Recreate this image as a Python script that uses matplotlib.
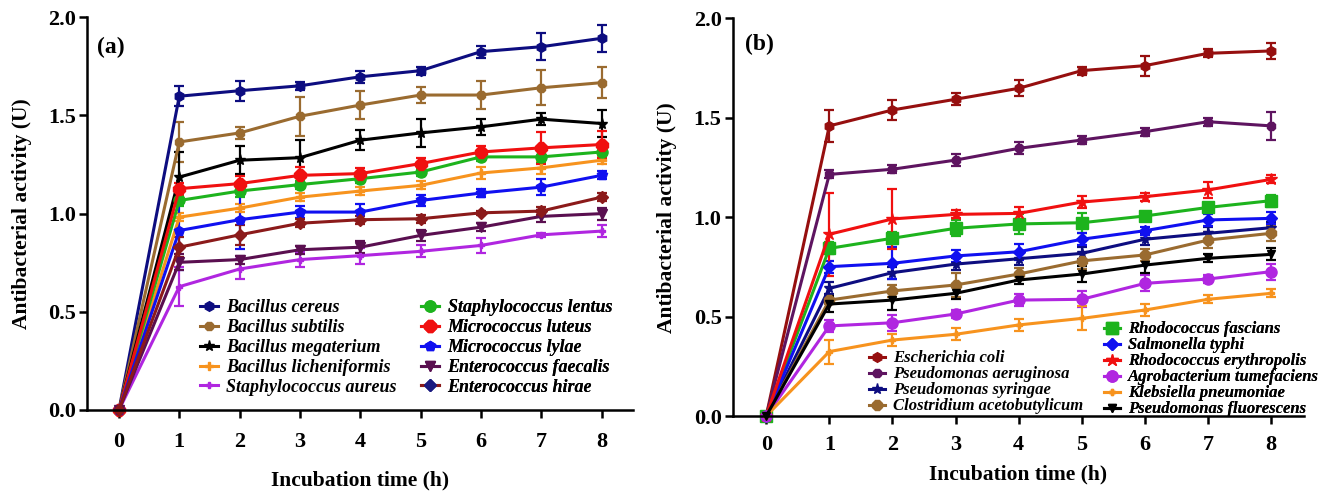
import matplotlib
matplotlib.use("Agg")
import matplotlib.pyplot as plt
from matplotlib.lines import Line2D

plt.rcParams['font.family'] = ['Liberation Serif', 'DejaVu Serif']
plt.rcParams['font.weight'] = 'bold'

hours = [0, 1, 2, 3, 4, 5, 6, 7, 8]
y_ticks = [0.0, 0.5, 1.0, 1.5, 2.0]
y_label = "Antibacterial activity (U)"
x_label = "Incubation time (h)"

# ---------- Panel (a) ----------
a_names = ["Bacillus cereus", "Bacillus subtilis", "Bacillus megaterium",
           "Bacillus licheniformis", "Staphylococcus aureus",
           "Staphylococcus lentus", "Micrococcus luteus", "Micrococcus lylae",
           "Enterococcus faecalis", "Enterococcus hirae"]
a_cereus = [0, 1.598, 1.626, 1.651, 1.697, 1.728, 1.825, 1.850, 1.893]
a_cereus_err = [0, 0.05, 0.05, 0.02, 0.03, 0.02, 0.03, 0.07, 0.07]
a_subtilis = [0, 1.365, 1.411, 1.496, 1.553, 1.604, 1.604, 1.641, 1.667]
a_subtilis_err = [0, 0.10, 0.03, 0.10, 0.07, 0.04, 0.07, 0.09, 0.08]
a_megaterium = [0, 1.186, 1.272, 1.285, 1.374, 1.411, 1.442, 1.481, 1.459]
a_megaterium_err = [0, 0.13, 0.07, 0.09, 0.05, 0.07, 0.04, 0.03, 0.07]
a_licheniformis = [0, 0.982, 1.028, 1.084, 1.115, 1.144, 1.207, 1.233, 1.272]
a_licheniformis_err = [0, 0.02, 0.02, 0.02, 0.02, 0.02, 0.03, 0.03, 0.02]
a_aureus = [0, 0.628, 0.718, 0.766, 0.786, 0.808, 0.838, 0.892, 0.911]
a_aureus_err = [0, 0.10, 0.05, 0.04, 0.04, 0.03, 0.04, 0.01, 0.03]
a_lentus = [0, 1.067, 1.115, 1.148, 1.178, 1.212, 1.289, 1.289, 1.314]
a_lentus_err = [0, 0.03, 0.03, 0.02, 0.02, 0.02, 0.02, 0.03, 0.03]
a_luteus = [0, 1.127, 1.153, 1.195, 1.204, 1.255, 1.314, 1.335, 1.352]
a_luteus_err = [0, 0.03, 0.04, 0.04, 0.03, 0.03, 0.03, 0.08, 0.07]
a_lylae = [0, 0.914, 0.969, 1.008, 1.008, 1.067, 1.105, 1.135, 1.195]
a_lylae_err = [0, 0.20, 0.15, 0.03, 0.04, 0.03, 0.02, 0.04, 0.02]
a_faecalis = [0, 0.752, 0.766, 0.816, 0.829, 0.889, 0.931, 0.986, 1.000]
a_faecalis_err = [0, 0.04, 0.02, 0.02, 0.03, 0.03, 0.02, 0.03, 0.03]
a_hirae = [0, 0.829, 0.892, 0.951, 0.969, 0.974, 1.004, 1.013, 1.084]
a_hirae_err = [0, 0.05, 0.05, 0.02, 0.02, 0.02, 0.01, 0.02, 0.02]

# ---------- Panel (b) ----------
b_names = ["Escherichia coli", "Pseudomonas aeruginosa", "Pseudomonas syringae",
           "Clostridium acetobutylicum", "Rhodococcus fascians",
           "Salmonella typhi", "Rhodococcus erythropolis",
           "Agrobacterium tumefaciens", "Klebsiella pneumoniae",
           "Pseudomonas fluorescens"]
b_ecoli = [0, 1.459, 1.539, 1.593, 1.648, 1.737, 1.762, 1.824, 1.836]
b_ecoli_err = [0, 0.08, 0.05, 0.03, 0.04, 0.02, 0.05, 0.02, 0.04]
b_aeruginosa = [0, 1.215, 1.241, 1.287, 1.346, 1.388, 1.430, 1.480, 1.459]
b_aeruginosa_err = [0, 0.02, 0.02, 0.03, 0.03, 0.02, 0.02, 0.02, 0.07]
b_syringae = [0, 0.642, 0.721, 0.764, 0.791, 0.818, 0.889, 0.919, 0.947]
b_syringae_err = [0, 0.03, 0.03, 0.03, 0.03, 0.03, 0.03, 0.03, 0.03]
b_clostridium = [0, 0.583, 0.629, 0.659, 0.714, 0.780, 0.810, 0.885, 0.919]
b_clostridium_err = [0, 0.02, 0.03, 0.06, 0.03, 0.04, 0.03, 0.04, 0.04]
b_fascians = [0, 0.843, 0.894, 0.944, 0.966, 0.972, 1.006, 1.049, 1.083]
b_fascians_err = [0, 0.03, 0.03, 0.04, 0.05, 0.05, 0.02, 0.02, 0.03]
b_typhi = [0, 0.751, 0.768, 0.805, 0.826, 0.889, 0.932, 0.986, 0.994]
b_typhi_err = [0, 0.03, 0.08, 0.03, 0.04, 0.03, 0.02, 0.03, 0.03]
b_erythropolis = [0, 0.914, 0.991, 1.014, 1.019, 1.076, 1.103, 1.137, 1.190]
b_erythropolis_err = [0, 0.21, 0.15, 0.02, 0.03, 0.03, 0.02, 0.04, 0.02]
b_agrobacterium = [0, 0.453, 0.469, 0.513, 0.583, 0.587, 0.667, 0.689, 0.726]
b_agrobacterium_err = [0, 0.03, 0.04, 0.02, 0.03, 0.04, 0.04, 0.02, 0.04]
b_klebsiella = [0, 0.324, 0.382, 0.411, 0.458, 0.491, 0.533, 0.587, 0.617]
b_klebsiella_err = [0, 0.06, 0.03, 0.03, 0.03, 0.06, 0.03, 0.02, 0.02]
b_fluorescens = [0, 0.563, 0.583, 0.617, 0.684, 0.714, 0.759, 0.793, 0.813]
b_fluorescens_err = [0, 0.04, 0.05, 0.03, 0.02, 0.04, 0.04, 0.02, 0.03]

a_series = [
    (a_cereus, a_cereus_err, '#0D0D80', 'h', 7),
    (a_subtilis, a_subtilis_err, '#9A6B30', '8', 7),
    (a_megaterium, a_megaterium_err, '#000000', '*', 8),
    (a_licheniformis, a_licheniformis_err, '#F7931E', 'P', 6),
    (a_aureus, a_aureus_err, '#B026E0', 'P', 5),
    (a_lentus, a_lentus_err, '#1DB31D', 'o', 8),
    (a_luteus, a_luteus_err, '#F01010', '8', 9),
    (a_lylae, a_lylae_err, '#1010F0', 'p', 7),
    (a_faecalis, a_faecalis_err, '#5A0F50', 'v', 7),
    (a_hirae, a_hirae_err, '#8B1A1A', 'D', 6),
]
b_series = [
    (b_ecoli, b_ecoli_err, '#960F0F', 'h', 7),
    (b_aeruginosa, b_aeruginosa_err, '#5E1460', '8', 7),
    (b_syringae, b_syringae_err, '#0D0D80', '*', 8),
    (b_clostridium, b_clostridium_err, '#9A6B30', '8', 8),
    (b_fascians, b_fascians_err, '#1DB31D', 's', 8),
    (b_typhi, b_typhi_err, '#1010F0', 'D', 6),
    (b_erythropolis, b_erythropolis_err, '#F01010', '*', 9),
    (b_agrobacterium, b_agrobacterium_err, '#B026E0', 'o', 8),
    (b_klebsiella, b_klebsiella_err, '#F7931E', 'P', 5),
    (b_fluorescens, b_fluorescens_err, '#000000', 'v', 6),
]

fig = plt.figure(figsize=(13.2, 4.91), dpi=100)
ax_a = fig.add_axes([0.0659, 0.165, 0.4136, 0.7998])
ax_b = fig.add_axes([0.5551, 0.1527, 0.4328, 0.8100])


def draw(ax, series, names, xlab_y, ylab_x, xpad):
    handles = []
    for (vals, errs, col, mk, ms), name in zip(series, names):
        ax.errorbar(hours, vals, yerr=errs, color=col, marker=mk, ms=ms,
                    lw=2.2, elinewidth=1.6, capsize=3.5, capthick=1.6,
                    clip_on=False)
        handles.append(Line2D([], [], color=col, marker=mk, ms=ms, lw=2.2,
                              label=name))
    ax.set_xlim(-0.53, 8.52)
    ax.set_ylim(0, 2.0)
    ax.set_xticks(hours)
    ax.set_yticks(y_ticks)
    ax.set_yticklabels([f"{t:.1f}" for t in y_ticks])
    for s in ['top', 'right']:
        ax.spines[s].set_visible(False)
    for s in ['left', 'bottom']:
        ax.spines[s].set_linewidth(1.8)
    ax.tick_params(axis='both', width=1.8, length=5.5, labelsize=16)
    ax.tick_params(axis='x', pad=xpad)
    ax.tick_params(axis='y', pad=2.5)
    for lab in ax.get_xticklabels() + ax.get_yticklabels():
        lab.set_fontweight('bold')
    ax.set_xlabel(x_label, fontsize=15.5, fontweight='bold', va='center')
    ax.set_ylabel(y_label, fontsize=15.5, fontweight='bold', va='center')
    ax.xaxis.set_label_coords(0.5, xlab_y)
    ax.yaxis.set_label_coords(ylab_x, 0.5)
    return handles


def key(ax, handles, left, top, size, spacing):
    font = {'family': 'Liberation Serif', 'style': 'italic',
            'weight': 'bold', 'size': size}
    leg = ax.legend(handles=handles, loc='upper left',
                    bbox_to_anchor=(left, top), frameon=False, prop=font,
                    handlelength=1.0, handletextpad=0.45, labelspacing=spacing,
                    borderpad=0, borderaxespad=0)
    ax.add_artist(leg)


ha = draw(ax_a, a_series, a_names, -0.18, -0.119, 10)
# key marker for E. hirae is drawn navy in the original
ha[9] = Line2D([], [], color='#8B1A1A', marker='D', ms=6, lw=2.2,
               mfc='#1A1A80', mec='#1A1A80', label=a_names[9])
key(ax_a, ha[:5], 0.207, 0.282, 13, 0.16)
key(ax_a, ha[5:], 0.6125, 0.282, 13, 0.16)
ax_a.text(0.018, 0.924, "(a)", transform=ax_a.transAxes, fontsize=17,
          fontweight='bold', va='center', ha='left')

hb = draw(ax_b, b_series, b_names, -0.148, -0.115, 8.5)
key(ax_b, hb[:4], 0.238, 0.165, 12, 0.0)
key(ax_b, hb[4:], 0.649, 0.238, 12, 0.0)
ax_b.text(0.0215, 0.935, "(b)", transform=ax_b.transAxes, fontsize=17,
          fontweight='bold', va='center', ha='left')

fig.savefig("out.png", dpi=100)
